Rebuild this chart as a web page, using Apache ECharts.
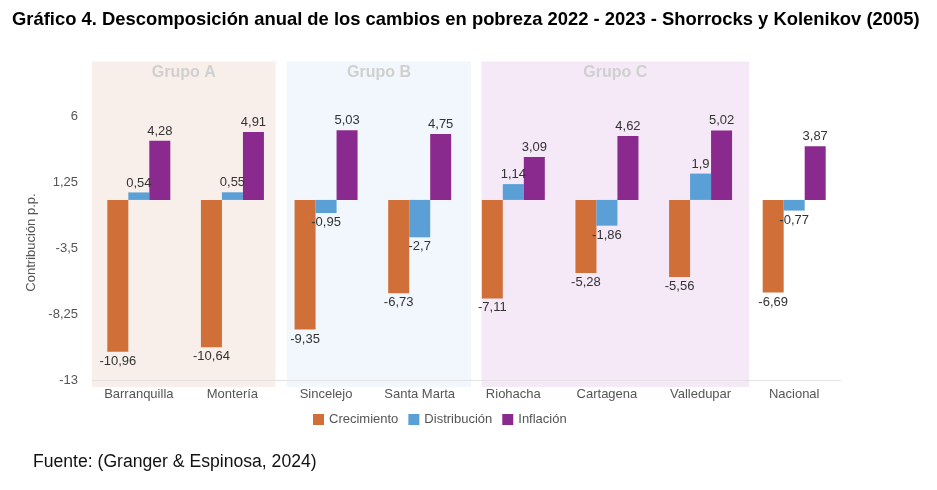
<!DOCTYPE html>
<html>
<head>
<meta charset="utf-8">
<script src="https://cdn.jsdelivr.net/npm/echarts@6/dist/echarts.min.js"></script>
<style>
  html, body { margin: 0; padding: 0; background: #fff; }
  #chart { width: 937px; height: 490px; }
</style>
</head>
<body>
<div id="chart"></div>
<script>
var ciudades = ['Barranquilla', 'Montería', 'Sincelejo', 'Santa Marta', 'Riohacha', 'Cartagena', 'Valledupar', 'Nacional'];
var crecimiento = [-10.96, -10.64, -9.35, -6.73, -7.11, -5.28, -5.56, -6.69];
var distribucion = [0.54, 0.55, -0.95, -2.7, 1.14, -1.86, 1.9, -0.77];
var inflacion = [4.28, 4.91, 5.03, 4.75, 3.09, 4.62, 5.02, 3.87];
var yTicks = [-13, -8.25, -3.5, 1.25, 6];

var grupos = ['Grupo A', 'Grupo B', 'Grupo C'];
var grupoDesde = [0, 2, 4];
var grupoHasta = [1, 3, 6];

// fondo de cada grupo (colores y holguras en fracciones de banda)
var grupoFondo = ['#f8efea', '#f1f7fc', '#f5e8f7'];
var grupoPadIzq = [0.5, 0.42, 0.34];
var grupoPadDer = [0.46, 0.55, 0.52];

var fmt = function (v) { return String(v).replace('.', ','); };

function serie(name, color, values) {
    return {
        name: name,
        type: 'bar',
        barWidth: 21,
        barGap: '0%',
        itemStyle: { color: color },
        label: {
            show: true,
            position: 'top',
            distance: 3,
            color: '#333',
            fontSize: 13,
            fontFamily: 'Liberation Sans',
            formatter: function (p) { return fmt(p.value); }
        },
        data: values.map(function (v) {
            return v < 0 ? { value: v, label: { position: 'bottom' } } : v;
        }),
        z: 3
    };
}

var chart = echarts.init(document.getElementById('chart'));
chart.setOption({
    animation: false,
    title: {
        text: 'Gráfico 4. Descomposición anual de los cambios en pobreza 2022 - 2023 - Shorrocks y Kolenikov (2005)',
        left: 7,
        top: 6,
        textStyle: { fontFamily: 'Liberation Sans', fontWeight: 'bold', fontSize: 18.4, color: '#000' }
    },
    graphic: [{
        type: 'text',
        left: 33,
        top: 453,
        style: { text: 'Fuente: (Granger & Espinosa, 2024)', font: '17.6px "Liberation Sans"', fill: '#111' }
    }],
    legend: {
        data: ['Crecimiento', 'Distribución', 'Inflación'],
        left: 308,
        top: 408,
        itemWidth: 11,
        itemHeight: 11,
        itemGap: 10,
        icon: 'rect',
        textStyle: { color: '#555', fontSize: 13, fontFamily: 'Liberation Sans' }
    },
    grid: { left: 92, right: 96, top: 51, bottom: 110 },
    xAxis: {
        type: 'category',
        data: ciudades,
        z: 2,
        axisLine: { onZero: false, lineStyle: { color: '#e2e2e2' } },
        axisTick: { show: false },
        axisLabel: { color: '#555', fontSize: 13, fontFamily: 'Liberation Sans', margin: 8 }
    },
    yAxis: {
        type: 'value',
        min: yTicks[0],
        max: 10.75,
        interval: 4.75,
        name: 'Contribución p.p.',
        nameLocation: 'middle',
        nameGap: 50,
        nameTextStyle: { color: '#555', fontSize: 13, fontFamily: 'Liberation Sans', padding: [0, 54, 0, 0] },
        splitLine: { show: false },
        axisLine: { show: false },
        axisTick: { show: false },
        axisLabel: {
            color: '#555', fontSize: 13, fontFamily: 'Liberation Sans', margin: 14,
            formatter: function (v) { return yTicks.indexOf(v) >= 0 ? fmt(v) : ''; }
        }
    },
    series: [
        {
            name: 'grupos',
            type: 'custom',
            silent: true,
            z: 1,
            data: grupos.map(function (g, i) { return [grupoDesde[i], grupoHasta[i], g]; }),
            renderItem: function (params, api) {
                var i = params.dataIndex;
                var band = api.size([1, 0])[0];
                var x0 = api.coord([api.value(0), 0])[0] - band * grupoPadIzq[i];
                var x1 = api.coord([api.value(1), 0])[0] + band * grupoPadDer[i];
                var y0 = api.coord([0, 10])[1];
                var y1 = params.coordSys.y + params.coordSys.height + 7;
                return {
                    type: 'group',
                    children: [{
                        type: 'rect',
                        shape: { x: x0, y: y0, width: x1 - x0, height: y1 - y0 },
                        style: { fill: grupoFondo[i] }
                    }, {
                        type: 'text',
                        x: (x0 + x1) / 2,
                        y: y0 + 11,
                        style: {
                            text: grupos[i], fill: '#d0d0d0', fontSize: 16, fontWeight: 'bold',
                            fontFamily: 'Liberation Sans', align: 'center', verticalAlign: 'middle'
                        }
                    }]
                };
            }
        },
        serie('Crecimiento', '#d06f38', crecimiento),
        serie('Distribución', '#5a9fd6', distribucion),
        serie('Inflación', '#8a2a8e', inflacion)
    ]
});
</script>
</body>
</html>
